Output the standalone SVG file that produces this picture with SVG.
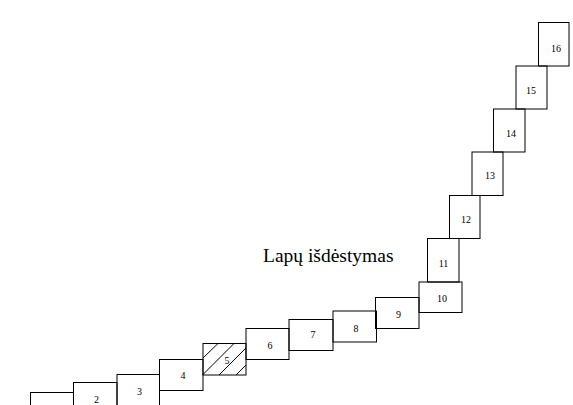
<svg xmlns="http://www.w3.org/2000/svg" width="573" height="405" viewBox="0 0 573 405">
<style>
.pg{fill:none;stroke:#000;stroke-width:1}
.hatch{stroke:#000;stroke-width:1}
.n{font-family:"Liberation Serif",serif;font-size:10px;text-anchor:middle;fill:#000}
.t{font-family:"Liberation Serif",serif;font-size:19.5px;fill:#000}
</style>
<rect width="573" height="405" fill="#fff"/>
<g id="title"><text class="t" x="263" y="261.5">Lapų išdėstymas</text></g>
<g id="p1"><rect class="pg" x="30.5" y="392.5" width="43" height="31"/></g>
<g id="p2"><rect class="pg" x="73.5" y="382.5" width="43.5" height="31"/><text class="n" x="96.5" y="403">2</text></g>
<g id="p3"><rect class="pg" x="117" y="374.5" width="42.5" height="31"/><text class="n" x="139.5" y="395">3</text></g>
<g id="p4"><rect class="pg" x="159.5" y="359.5" width="43.5" height="31"/><text class="n" x="183" y="379">4</text></g>
<g id="p5"><rect class="pg" x="203" y="343.5" width="43" height="31.5"/>
<g class="hatch"><line x1="203" y1="358" x2="218" y2="343.5"/><line x1="203" y1="374.5" x2="234" y2="343.5"/><line x1="219" y1="375" x2="246" y2="348"/><line x1="236" y1="375" x2="246" y2="365"/></g>
<text class="n" x="227" y="364">5</text></g>
<g id="p6"><rect class="pg" x="246" y="328.5" width="43" height="31"/><text class="n" x="270" y="349">6</text></g>
<g id="p7"><rect class="pg" x="289" y="319.5" width="44" height="31"/><text class="n" x="313" y="338">7</text></g>
<g id="p8"><rect class="pg" x="333" y="311" width="43.5" height="31"/><text class="n" x="356" y="332">8</text></g>
<g id="p9"><rect class="pg" x="375.5" y="297.5" width="43.5" height="31"/><text class="n" x="398.5" y="318">9</text></g>
<g id="p10"><rect class="pg" x="419" y="282" width="43" height="30.5"/><text class="n" x="442" y="302">10</text></g>
<g id="p11"><rect class="pg" x="427.5" y="238.5" width="31.5" height="43.5"/><text class="n" x="443.5" y="267">11</text></g>
<g id="p12"><rect class="pg" x="449.5" y="195.5" width="30.5" height="43"/><text class="n" x="466" y="223">12</text></g>
<g id="p13"><rect class="pg" x="472" y="152" width="31" height="43.5"/><text class="n" x="490" y="179">13</text></g>
<g id="p14"><rect class="pg" x="493.5" y="109" width="31.5" height="43"/><text class="n" x="511" y="137">14</text></g>
<g id="p15"><rect class="pg" x="516" y="66" width="31" height="43"/><text class="n" x="531" y="94">15</text></g>
<g id="p16"><rect class="pg" x="538.5" y="22.5" width="30.5" height="43.5"/><text class="n" x="556" y="51.5">16</text></g>
<g id="connectors"/>
</svg>
